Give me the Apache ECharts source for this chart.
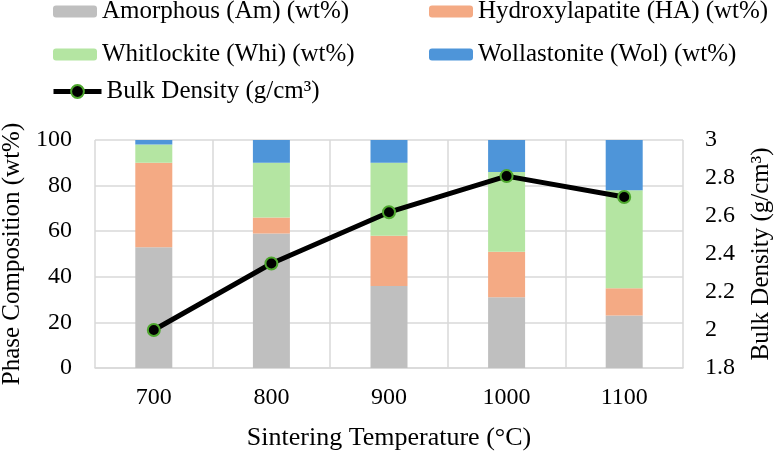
<!DOCTYPE html>
<html>
<head>
<meta charset="utf-8">
<script src="https://cdn.jsdelivr.net/npm/echarts@6/dist/echarts.min.js"></script>
<style>
  html, body { margin: 0; padding: 0; background: #fff; }
  #chart { width: 778px; height: 453px; }
</style>
</head>
<body>
<div id="chart"></div>
<script>
// data
var temps = ['700', '800', '900', '1000', '1100'];
var amorphous = [53, 59, 36, 31, 23];
var hydroxyl = [37, 7, 22, 20, 12];
var whitlockite = [8, 24, 32, 35, 43];
var wollastonite = [2, 10, 10, 14, 22];
var density = [2.0, 2.35, 2.62, 2.81, 2.70];

var FONT = '"Liberation Serif", "Times New Roman", serif';
var tick = { color: '#000', fontFamily: FONT, fontSize: 24 };
var title = { color: '#000', fontFamily: FONT, fontSize: 25 };

var myChart = echarts.init(document.getElementById('chart'));

var legendBase = {
    orient: 'vertical',
    padding: 0,
    itemWidth: 44,
    itemHeight: 12,
    itemGap: 18,
    textStyle: { color: '#000', fontFamily: FONT, fontSize: 25 }
};

var option = {
    backgroundColor: '#fff',
    animation: false,
    legend: [
        Object.assign({}, legendBase, { left: 53, top: -1, data: ['Amorphous (Am) (wt%)', 'Whitlockite (Whi) (wt%)'] }),
        Object.assign({}, legendBase, { left: 429, top: -1, data: ['Hydroxylapatite (HA) (wt%)', 'Wollastonite (Wol) (wt%)'] }),
        Object.assign({}, legendBase, {
            left: 51, top: 79, itemWidth: 48, itemHeight: 16,
            lineStyle: { width: 5 },
            data: ['Bulk Density (g/cm³)']
        })
    ],
    grid: { left: 95, right: 95, top: 140, bottom: 85, outerBoundsMode: 'none', containLabel: false },
    xAxis: {
        type: 'category',
        data: temps,
        axisLine: { lineStyle: { color: '#d9d9d9', width: 1.5 } },
        axisTick: { show: false },
        splitLine: { show: true, lineStyle: { color: '#d9d9d9', width: 1.5 } },
        axisLabel: Object.assign({ margin: 18 }, tick),
        name: 'Sintering Temperature (°C)',
        nameLocation: 'middle',
        nameGap: 57,
        nameTextStyle: Object.assign({}, title, { fontSize: 26 })
    },
    yAxis: [{
        type: 'value',
        min: 0, max: 100, interval: 20,
        axisLine: { show: false },
        axisTick: { show: false },
        splitLine: { lineStyle: { color: '#d9d9d9', width: 1.5 } },
        axisLabel: Object.assign({ margin: 23 }, tick),
        name: 'Phase Composition (wt%)',
        nameLocation: 'middle',
        nameGap: 70,
        nameTextStyle: title
    }, {
        type: 'value',
        min: 1.8, max: 3, interval: 0.2,
        axisLine: { show: false },
        axisTick: { show: false },
        splitLine: { show: false },
        axisLabel: Object.assign({ margin: 22, formatter: function (v) { return +v.toFixed(1); } }, tick),
        name: 'Bulk Density (g/cm³)',
        nameLocation: 'middle',
        nameGap: 66,
        nameRotate: 90,
        nameTextStyle: title
    }],
    series: [
        { name: 'Amorphous (Am) (wt%)', type: 'bar', stack: 'p', barWidth: 37, data: amorphous, itemStyle: { color: '#bfbfbf' } },
        { name: 'Hydroxylapatite (HA) (wt%)', type: 'bar', stack: 'p', data: hydroxyl, itemStyle: { color: '#f4aa84' } },
        { name: 'Whitlockite (Whi) (wt%)', type: 'bar', stack: 'p', data: whitlockite, itemStyle: { color: '#b4e5a2' } },
        { name: 'Wollastonite (Wol) (wt%)', type: 'bar', stack: 'p', data: wollastonite, itemStyle: { color: '#4e95d9' } },
        {
            name: 'Bulk Density (g/cm³)', type: 'line', yAxisIndex: 1, data: density, z: 10,
            symbol: 'circle', symbolSize: 12,
            lineStyle: { color: '#000', width: 5 },
            itemStyle: { color: '#000', borderColor: '#4ea72e', borderWidth: 2 }
        }
    ]
};

myChart.setOption(option);
</script>
</body>
</html>
